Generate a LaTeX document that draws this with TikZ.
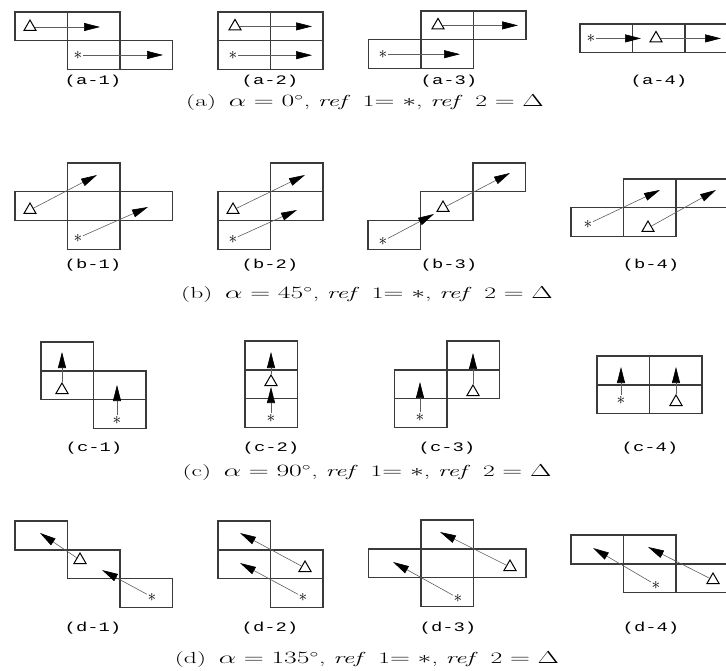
\documentclass[tikz,border=0pt]{standalone}
\usepackage{fontspec}
\usepackage{graphicx}
\newfontfamily\panelfont{Liberation Mono}
\usetikzlibrary{arrows.meta, shapes.geometric}
\definecolor{gridline}{HTML}{3A3A3A}
\definecolor{pathline}{HTML}{5E5E5E}

\begin{document}
\begin{tikzpicture}[
        x=1pt, y=-1pt,
        cell/.style={
            draw=gridline,
            line width=1.4pt
        },
        refone/.style={
            inner sep=0.4pt,
            text=black,
            font=\fontsize{17}{17}\selectfont
        },
        reftwo/.style={
            draw=black,
            regular polygon,
            regular polygon sides=3,
            minimum size=14pt,
            inner sep=0pt,
            line width=1pt
        },
        motion/.style={
            -{Triangle[length=16pt, width=8pt, black]},
            pathline,
            line width=0.6pt
        },
        sublabel/.style={
            font=\panelfont\fontsize{13}{15}\selectfont
        },
        caption/.style={
            font=\fontsize{16}{18}\selectfont
        }
    ]

        \useasboundingbox (0,0) rectangle (726,671);
        \clip (0,0) rectangle (726,671);

        % ---------------------------------------------------------------------
        % Row (a): alpha = 0
        % ---------------------------------------------------------------------

        \draw[cell] (15,12) rectangle ++(52.5,28.8);
        \draw[cell] (67.5,12) rectangle ++(52.5,28.8);
        \draw[cell] (67.5,40.8) rectangle ++(52.5,28.8);
        \draw[cell] (120,40.8) rectangle ++(52.5,28.8);
        \node[reftwo] (a1tri) at (30,27) {};
        \node[refone] (a1star) at (78,55) {$\ast$};
        \coordinate (a1tritip) at (100,27);
        \coordinate (a1startip) at (163,55);
        \draw[motion] (a1tri) -- (a1tritip);
        \draw[motion] (a1star) -- (a1startip);
        \node[sublabel] (a1lab) at (93,81) {\scalebox{1.45}[1]{(a-1)}};

        \draw[cell] (218,12) rectangle ++(52.5,28.8);
        \draw[cell] (270.5,12) rectangle ++(52.5,28.8);
        \draw[cell] (218,40.8) rectangle ++(52.5,28.8);
        \draw[cell] (270.5,40.8) rectangle ++(52.5,28.8);
        \node[reftwo] (a2tri) at (235,26.4) {};
        \node[refone] (a2star) at (233,55.2) {$\ast$};
        \coordinate (a2tritip) at (312,26.4);
        \coordinate (a2startip) at (312,55.2);
        \draw[motion] (a2tri) -- (a2tritip);
        \draw[motion] (a2star) -- (a2startip);
        \node[sublabel] (a2lab) at (270,81) {\scalebox{1.45}[1]{(a-2)}};

        \draw[cell] (421,11) rectangle ++(52.5,28.8);
        \draw[cell] (473.5,11) rectangle ++(52.5,28.8);
        \draw[cell] (368.5,39.8) rectangle ++(52.5,28.8);
        \draw[cell] (421,39.8) rectangle ++(52.5,28.8);
        \node[reftwo] (a3tri) at (438,25.4) {};
        \node[refone] (a3star) at (383,54.2) {$\ast$};
        \coordinate (a3tritip) at (518,25.4);
        \coordinate (a3startip) at (460,54.2);
        \draw[motion] (a3tri) -- (a3tritip);
        \draw[motion] (a3star) -- (a3startip);
        \node[sublabel] (a3lab) at (449,81) {\scalebox{1.45}[1]{(a-3)}};

        \draw[cell] (580,24) rectangle ++(52.5,28.8);
        \draw[cell] (632.5,24) rectangle ++(52.5,28.8);
        \draw[cell] (685,24) rectangle ++(52.5,28.8);
        \node[refone] (a4star) at (591,38.4) {$\ast$};
        \node[reftwo] (a4tri) at (656,38.4) {};
        \coordinate (a4startip) at (641,38.4);
        \coordinate (a4tritip) at (721,38.4);
        \draw[motion] (a4star) -- (a4startip);
        \draw[motion] (a4tri) -- (a4tritip);
        \node[sublabel] (a4lab) at (659,81) {\scalebox{1.45}[1]{(a-4)}};

        \node[caption] (acap) at (365,103)
            {\scalebox{1.6}[1]{(a)\enspace$\alpha = 0^{\circ}$, \textit{ref}\enspace 1$=$ $*$, \textit{ref}\enspace 2 $= \Delta$}};

        % ---------------------------------------------------------------------
        % Row (b): alpha = 45
        % ---------------------------------------------------------------------

        \draw[cell] (67.5,163) rectangle ++(52.5,28.8);
        \draw[cell] (15,191.8) rectangle ++(52.5,28.8);
        \draw[cell] (67.5,191.8) rectangle ++(52.5,28.8);
        \draw[cell] (120,191.8) rectangle ++(52.5,28.8);
        \draw[cell] (67.5,220.6) rectangle ++(52.5,28.8);
        \node[reftwo] (b1tri) at (30,210) {};
        \node[refone] (b1star) at (78,238) {$\ast$};
        \coordinate (b1tritip) at (97,175);
        \coordinate (b1startip) at (148,207);
        \draw[motion] (b1tri) -- (b1tritip);
        \draw[motion] (b1star) -- (b1startip);
        \node[sublabel] (b1lab) at (93,265) {\scalebox{1.45}[1]{(b-1)}};

        \draw[cell] (270.5,163) rectangle ++(52.5,28.8);
        \draw[cell] (218,191.8) rectangle ++(52.5,28.8);
        \draw[cell] (270.5,191.8) rectangle ++(52.5,28.8);
        \draw[cell] (218,220.6) rectangle ++(52.5,28.8);
        \node[reftwo] (b2tri) at (233,210) {};
        \node[refone] (b2star) at (233,239) {$\ast$};
        \coordinate (b2tritip) at (305,175);
        \coordinate (b2startip) at (297,210);
        \draw[motion] (b2tri) -- (b2tritip);
        \draw[motion] (b2star) -- (b2startip);
        \node[sublabel] (b2lab) at (270,265) {\scalebox{1.45}[1]{(b-2)}};

        \draw[cell] (473,163) rectangle ++(52.5,28.8);
        \draw[cell] (420.5,191.8) rectangle ++(52.5,28.8);
        \draw[cell] (368,220.6) rectangle ++(52.5,28.8);
        \node[reftwo] (b3tri) at (443,208) {};
        \node[refone] (b3star) at (383,241) {$\ast$};
        \coordinate (b3tritip) at (510,173);
        \coordinate (b3startip) at (434,214);
        \draw[motion] (b3tri) -- (b3tritip);
        \draw[motion] (b3star) -- (b3startip);
        \node[sublabel] (b3lab) at (449,265) {\scalebox{1.45}[1]{(b-3)}};

        \draw[cell] (623.5,179) rectangle ++(52.5,28.8);
        \draw[cell] (676,179) rectangle ++(52.5,28.8);
        \draw[cell] (571,207.8) rectangle ++(52.5,28.8);
        \draw[cell] (623.5,207.8) rectangle ++(52.5,28.8);
        \node[refone] (b4star) at (588,224) {$\ast$};
        \node[reftwo] (b4tri) at (648,228) {};
        \coordinate (b4startip) at (660,190);
        \coordinate (b4tritip) at (716,190);
        \draw[motion] (b4star) -- (b4startip);
        \draw[motion] (b4tri) -- (b4tritip);
        \node[sublabel] (b4lab) at (651,265) {\scalebox{1.45}[1]{(b-4)}};

        \node[caption] (bcap) at (367,295)
            {\scalebox{1.6}[1]{(b)\enspace$\alpha = 45^{\circ}$, \textit{ref}\enspace 1$=$ $*$, \textit{ref}\enspace 2 $= \Delta$}};

        % ---------------------------------------------------------------------
        % Row (c): alpha = 90
        % ---------------------------------------------------------------------

        \draw[cell] (41,342) rectangle ++(52.5,28.8);
        \draw[cell] (41,370.8) rectangle ++(52.5,28.8);
        \draw[cell] (93.5,370.8) rectangle ++(52.5,28.8);
        \draw[cell] (93.5,399.6) rectangle ++(52.5,28.8);
        \node[reftwo] (c1tri) at (62,390) {};
        \node[refone] (c1star) at (117,420) {$\ast$};
        \coordinate (c1tritip) at (62,352);
        \coordinate (c1startip) at (117,385);
        \draw[motion] (c1tri) -- (c1tritip);
        \draw[motion] (c1star) -- (c1startip);
        \node[sublabel] (c1lab) at (94,448) {\scalebox{1.45}[1]{(c-1)}};

        \draw[cell] (245,341) rectangle ++(52.5,28.8);
        \draw[cell] (245,369.8) rectangle ++(52.5,28.8);
        \draw[cell] (245,398.6) rectangle ++(52.5,28.8);
        \node[reftwo] (c2tri) at (271,382) {};
        \node[refone] (c2star) at (271,418) {$\ast$};
        \coordinate (c2tritip) at (271,352);
        \coordinate (c2startip) at (271,387);
        \draw[motion] (c2tri) -- (c2tritip);
        \draw[motion] (c2star) -- (c2startip);
        \node[sublabel] (c2lab) at (271,448) {\scalebox{1.45}[1]{(c-2)}};

        \draw[cell] (447,341) rectangle ++(52.5,28.8);
        \draw[cell] (447,369.8) rectangle ++(52.5,28.8);
        \draw[cell] (394.5,369.8) rectangle ++(52.5,28.8);
        \draw[cell] (394.5,398.6) rectangle ++(52.5,28.8);
        \node[refone] (c3star) at (420,417) {$\ast$};
        \node[reftwo] (c3tri) at (473,392) {};
        \coordinate (c3startip) at (420,382);
        \coordinate (c3tritip) at (473,353);
        \draw[motion] (c3star) -- (c3startip);
        \draw[motion] (c3tri) -- (c3tritip);
        \node[sublabel] (c3lab) at (447,448) {\scalebox{1.45}[1]{(c-3)}};

        \draw[cell] (597,356) rectangle ++(52.5,28.8);
        \draw[cell] (649.5,356) rectangle ++(52.5,28.8);
        \draw[cell] (597,384.8) rectangle ++(52.5,28.8);
        \draw[cell] (649.5,384.8) rectangle ++(52.5,28.8);
        \node[refone] (c4star) at (621,400) {$\ast$};
        \node[reftwo] (c4tri) at (676,402) {};
        \coordinate (c4startip) at (621,367);
        \coordinate (c4tritip) at (676,367);
        \draw[motion] (c4star) -- (c4startip);
        \draw[motion] (c4tri) -- (c4tritip);
        \node[sublabel] (c4lab) at (650,448) {\scalebox{1.45}[1]{(c-4)}};

        \node[caption] (ccap) at (367,473)
            {\scalebox{1.6}[1]{(c)\enspace$\alpha = 90^{\circ}$, \textit{ref}\enspace 1$=$ $*$, \textit{ref}\enspace 2 $= \Delta$}};

        % ---------------------------------------------------------------------
        % Row (d): alpha = 135
        % ---------------------------------------------------------------------

        \draw[cell] (15,521) rectangle ++(52.5,28.8);
        \draw[cell] (67.5,549.8) rectangle ++(52.5,28.8);
        \draw[cell] (120,578.6) rectangle ++(52.5,28.8);
        \node[reftwo] (d1tri) at (80,560) {};
        \node[refone] (d1star) at (152,597) {$\ast$};
        \coordinate (d1tritip) at (40,533);
        \coordinate (d1startip) at (102,570);
        \draw[motion] (d1tri) -- (d1tritip);
        \draw[motion] (d1star) -- (d1startip);
        \node[sublabel] (d1lab) at (93,628) {\scalebox{1.45}[1]{(d-1)}};

        \draw[cell] (218,521) rectangle ++(52.5,28.8);
        \draw[cell] (218,549.8) rectangle ++(52.5,28.8);
        \draw[cell] (270.5,549.8) rectangle ++(52.5,28.8);
        \draw[cell] (270.5,578.6) rectangle ++(52.5,28.8);
        \node[reftwo] (d2tri) at (305,568) {};
        \node[refone] (d2star) at (303,597) {$\ast$};
        \coordinate (d2tritip) at (240,533);
        \coordinate (d2startip) at (240,563);
        \draw[motion] (d2tri) -- (d2tritip);
        \draw[motion] (d2star) -- (d2startip);
        \node[sublabel] (d2lab) at (270,628) {\scalebox{1.45}[1]{(d-2)}};

        \draw[cell] (421,520) rectangle ++(52.5,28.8);
        \draw[cell] (421,548.8) rectangle ++(52.5,28.8);
        \draw[cell] (421,577.6) rectangle ++(52.5,28.8);
        \draw[cell] (368.5,548.8) rectangle ++(52.5,28.8);
        \draw[cell] (473.5,548.8) rectangle ++(52.5,28.8);
        \node[reftwo] (d3tri) at (510,567) {};
        \node[refone] (d3star) at (458,598) {$\ast$};
        \coordinate (d3tritip) at (440,532);
        \coordinate (d3startip) at (393,562);
        \draw[motion] (d3tri) -- (d3tritip);
        \draw[motion] (d3star) -- (d3startip);
        \node[sublabel] (d3lab) at (448,628) {\scalebox{1.45}[1]{(d-3)}};

        \draw[cell] (571,535) rectangle ++(52.5,28.8);
        \draw[cell] (623.5,535) rectangle ++(52.5,28.8);
        \draw[cell] (623.5,563.8) rectangle ++(52.5,28.8);
        \draw[cell] (676,563.8) rectangle ++(52.5,28.8);
        \node[refone] (d4star) at (656,585) {$\ast$};
        \node[reftwo] (d4tri) at (713,580) {};
        \coordinate (d4startip) at (593,548);
        \coordinate (d4tritip) at (648,547);
        \draw[motion] (d4star) -- (d4startip);
        \draw[motion] (d4tri) -- (d4tritip);
        \node[sublabel] (d4lab) at (651,628) {\scalebox{1.45}[1]{(d-4)}};

        \node[caption] (dcap) at (367,660)
            {\scalebox{1.6}[1]{(d)\enspace$\alpha = 135^{\circ}$, \textit{ref}\enspace 1$=$ $*$, \textit{ref}\enspace 2 $= \Delta$}};

    \end{tikzpicture}
\end{document}
